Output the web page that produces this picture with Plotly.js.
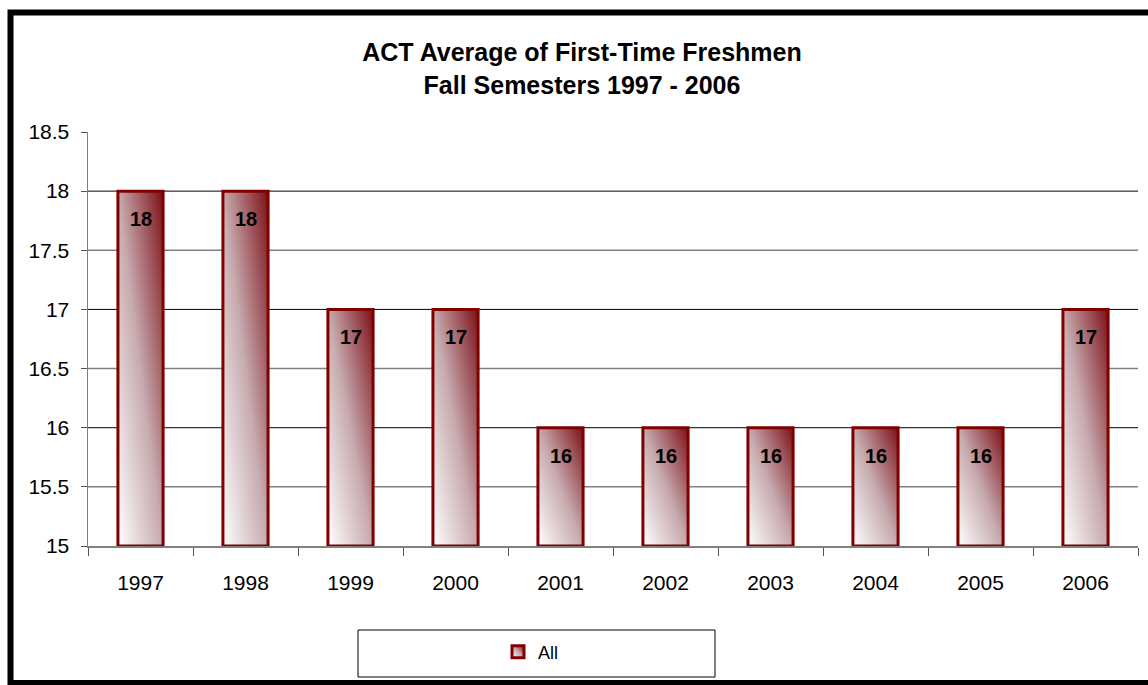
<!DOCTYPE html>
<html><head><meta charset="utf-8">
<script src="https://cdn.plot.ly/plotly-3.0.1.min.js"></script>
<style>html,body{margin:0;padding:0;background:#fff}#chart{width:1148px;height:685px}</style>
</head><body><div id="chart"></div>
<script>
// ---- data ----
const years = ['1997', '1998', '1999', '2000', '2001', '2002', '2003', '2004', '2005', '2006'];
const actAverage = [18, 18, 17, 17, 16, 16, 16, 16, 16, 17];
const seriesName = 'All';
const chartTitle = 'ACT Average of First-Time Freshmen<br>Fall Semesters 1997 - 2006';
const yMin = 15;
const yMax = 18.5;
const yStep = 0.5;

// ---- styling ----
const FONT = 'Liberation Sans, Arial, sans-serif';
const BAR_EDGE = '#800000';

const data = [{
  type: 'bar',
  name: seriesName,
  x: years,
  y: actAverage.map(v => v - yMin),
  base: yMin,
  width: 0.43,
  marker: { color: '#c9a9ad', line: { color: BAR_EDGE, width: 3 } },
  hoverinfo: 'skip',
  showlegend: true
}];

// data labels (category axis: annotation x is the category index)
const labelAnnotations = years.map((yr, i) => ({
  x: i, y: actAverage[i], xref: 'x', yref: 'y',
  text: String(actAverage[i]), showarrow: false,
  yshift: -28, yanchor: 'middle',
  font: { family: FONT, size: 20, color: '#000', weight: 'bold' }
}));

// gridlines: black at whole numbers, grey at halves (derived from axis range)
const gridShapes = [];
for (let v = yMin + yStep; v < yMax - 1e-9; v += yStep) {
  const whole = Math.abs(v - Math.round(v)) < 1e-9;
  gridShapes.push({
    type: 'line', xref: 'paper', yref: 'y', x0: 0, x1: 1, y0: v, y1: v, layer: 'below',
    line: { color: whole ? '#000' : '#808080', width: whole ? 1 : 1.5 }
  });
}

// plot area in pixels: x 88..1138, y 132..546
const L = 88, R = 1138, T = 132, B = 546, W = 1148, H = 685;
const px = x => (x - L) / (R - L);
const py = y => (B - y) / (B - T);

const layout = {
  width: W, height: H,
  margin: { l: L, r: W - R, t: T, b: H - B, pad: 0 },
  paper_bgcolor: '#fff', plot_bgcolor: 'rgba(0,0,0,0)',
  font: { family: FONT, color: '#000' },
  title: {
    text: chartTitle,
    font: { family: FONT, size: 25, color: '#000', weight: 'bold' },
    x: 582 / W, xanchor: 'center', xref: 'container',
    y: 1 - 61 / H, yanchor: 'top', yref: 'container'
  },
  xaxis: {
    type: 'category',
    range: [-0.5, years.length - 0.5],
    tickson: 'boundaries',
    ticks: 'outside', ticklen: 8, tickcolor: '#555', tickwidth: 1,
    showline: true, linecolor: '#808080', linewidth: 1.5,
    showgrid: false, zeroline: false,
    tickfont: { family: FONT, size: 21, color: '#000' },
    ticklabelstandoff: 17,
    fixedrange: true
  },
  yaxis: {
    range: [yMin, yMax], tick0: yMin, dtick: yStep,
    ticks: 'outside', ticklen: 6, tickcolor: '#555', tickwidth: 1,
    showline: true, linecolor: '#808080', linewidth: 1.5,
    showgrid: false, zeroline: false,
    tickfont: { family: FONT, size: 21, color: '#000' },
    ticklabelstandoff: 7,
    fixedrange: true
  },
  bargap: 0.57,
  showlegend: true,
  legend: {
    x: px(531), xanchor: 'center', y: py(652), yanchor: 'middle',
    bgcolor: 'rgba(0,0,0,0)', borderwidth: 0,
    font: { family: FONT, size: 18, color: '#000' }
  },
  annotations: labelAnnotations,
  shapes: gridShapes.concat([
    { type: 'rect', xref: 'paper', yref: 'paper', layer: 'below',
      x0: px(358), x1: px(715), y0: py(677), y1: py(630),
      line: { color: '#000', width: 1 }, fillcolor: 'rgba(0,0,0,0)' },
    { type: 'rect', xref: 'paper', yref: 'paper', layer: 'above',
      x0: px(10.5), x1: px(1155), y0: py(683), y1: py(12.5),
      line: { color: '#000', width: 6 }, fillcolor: 'rgba(0,0,0,0)' }
  ])
};

Plotly.newPlot('chart', data, layout, { staticPlot: true, displayModeBar: false }).then(gd => {
  const ns = 'http://www.w3.org/2000/svg';
  const svg = gd.querySelector('svg.main-svg');
  let defs = svg.querySelector('defs');
  if (!defs) { defs = document.createElementNS(ns, 'defs'); svg.insertBefore(defs, svg.firstChild); }
  const lg = document.createElementNS(ns, 'linearGradient');
  lg.setAttribute('id', 'barGrad');
  lg.setAttribute('x1', '0'); lg.setAttribute('y1', '1');
  lg.setAttribute('x2', '1'); lg.setAttribute('y2', '0');
  [['0', '#ffffff'], ['0.5', '#c6aaae'], ['1', '#7d1018']].forEach(([o, c]) => {
    const s = document.createElementNS(ns, 'stop');
    s.setAttribute('offset', o); s.setAttribute('stop-color', c);
    lg.appendChild(s);
  });
  defs.appendChild(lg);
  gd.querySelectorAll('.trace.bars .point path, .legendpoints path').forEach(p => {
    p.style.fill = 'url(#barGrad)';
  });
});
</script>
</body></html>
